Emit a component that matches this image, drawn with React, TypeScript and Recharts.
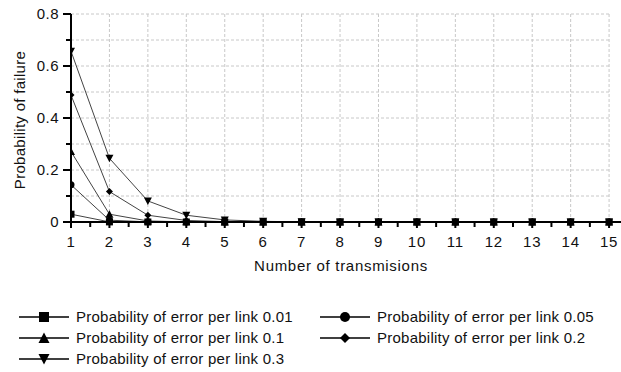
import React from "react";
import { LineChart, Line, XAxis, YAxis, ReferenceLine, Legend } from "recharts";

const transmissions = [1, 2, 3, 4, 5, 6, 7, 8, 9, 10, 11, 12, 13, 14, 15];
const p001 = [0.03, 0.0004, 0, 0, 0, 0, 0, 0, 0, 0, 0, 0, 0, 0, 0];
const p005 = [0.143, 0.007, 0.0005, 0, 0, 0, 0, 0, 0, 0, 0, 0, 0, 0, 0];
const p01 = [0.271, 0.03, 0.004, 0.0005, 0, 0, 0, 0, 0, 0, 0, 0, 0, 0, 0];
const p02 = [0.488, 0.117, 0.026, 0.006, 0.0013, 0.0003, 0.0001, 0, 0, 0, 0, 0, 0, 0, 0];
const p03 = [0.657, 0.245, 0.081, 0.026, 0.008, 0.0025, 0.0008, 0.0002, 0.0001, 0, 0, 0, 0, 0, 0];

const seriesNames = [
  "Probability of error per link 0.01",
  "Probability of error per link 0.05",
  "Probability of error per link 0.1",
  "Probability of error per link 0.2",
  "Probability of error per link 0.3",
];
const seriesKeys = ["p001", "p005", "p01", "p02", "p03"];
const seriesShapes = ["square", "circle", "triangle", "diamond", "triangleDown"];

const yTicks = [0, 0.1, 0.2, 0.3, 0.4, 0.5, 0.6, 0.7, 0.8];
const yGridValues = [0.1, 0.2, 0.3, 0.4, 0.5, 0.6, 0.7, 0.8];
const xTicks = [1, 1.5, 2, 2.5, 3, 3.5, 4, 4.5, 5, 5.5, 6, 6.5, 7, 7.5, 8, 8.5, 9, 9.5, 10, 10.5, 11, 11.5, 12, 12.5, 13, 13.5, 14, 14.5, 15];
const xGridValues = [2, 3, 4, 5, 6, 7, 8, 9, 10, 11, 12, 13, 14, 15];

const data = transmissions.map((t, i) => ({
  t,
  p001: p001[i],
  p005: p005[i],
  p01: p01[i],
  p02: p02[i],
  p03: p03[i],
}));

const FONT = "'Liberation Sans', Arial, sans-serif";
const GRID = "#c8c8c8";
const LINE = "#444";

function Marker({ shape, cx, cy, s }: { shape: string; cx: number; cy: number; s: number }) {
  const h = s / 2;
  if (shape === "square") return <rect x={cx - h} y={cy - h} width={s} height={s} fill="#000" />;
  if (shape === "circle") return <circle cx={cx} cy={cy} r={h} fill="#000" />;
  if (shape === "triangle")
    return <polygon points={`${cx},${cy - h - 0.5} ${cx + h + 0.5},${cy + h} ${cx - h - 0.5},${cy + h}`} fill="#000" />;
  if (shape === "triangleDown")
    return <polygon points={`${cx - h - 0.5},${cy - h} ${cx + h + 0.5},${cy - h} ${cx},${cy + h + 0.5}`} fill="#000" />;
  return <polygon points={`${cx},${cy - h} ${cx + h},${cy} ${cx},${cy + h} ${cx - h},${cy}`} fill="#000" />;
}

const makeDot = (shape: string) => (props: any) => {
  const { cx, cy, index } = props;
  if (cx == null || cy == null) return <g key={index} />;
  return <Marker key={`${shape}-${index}`} shape={shape} cx={cx} cy={cy} s={7} />;
};

const XTick = (props: any) => {
  const { x, y, payload } = props;
  const v = payload.value;
  const major = Number.isInteger(v);
  return (
    <g>
      <line x1={x} x2={x} y1={y} y2={y + (major ? 6 : 5)} stroke="#000" strokeWidth={2} />
      {major && (
        <text x={x} y={y + 25} textAnchor="middle" fontFamily={FONT} fontSize={15} letterSpacing={0.8} fill="#111">
          {v}
        </text>
      )}
    </g>
  );
};

const YTick = (props: any) => {
  const { x, y, payload } = props;
  const v = payload.value;
  const idx = Math.round(v * 10);
  const major = idx % 2 === 0;
  return (
    <g>
      <line x1={x - (major ? 8 : 5)} x2={x} y1={y} y2={y} stroke="#000" strokeWidth={2} />
      {major && (
        <text x={x - 12} y={y + 5} textAnchor="end" fontFamily={FONT} fontSize={15} letterSpacing={0.5} fill="#111">
          {idx === 0 ? "0" : v.toFixed(1)}
        </text>
      )}
    </g>
  );
};

const LegendBox = () => {
  const rows: number[][] = [[0, 1], [2, 3], [4]];
  return (
    <div style={{ height: 96, width: 621, boxSizing: "border-box", paddingTop: 34, fontFamily: FONT, fontSize: 15, letterSpacing: 0.25, color: "#111" }}>
      {rows.map((r, ri) => (
        <div key={ri} style={{ height: 21, position: "relative" }}>
          {r.map((si, ci) => (
            <div key={si} style={{ position: "absolute", left: ci === 0 ? 19 : 320, top: 0, height: 21, display: "flex", alignItems: "center", whiteSpace: "nowrap" }}>
              <svg width={50} height={14} style={{ marginRight: 7 }}>
                <line x1={0} x2={50} y1={7} y2={7} stroke="#000" strokeWidth={1.5} />
                <Marker shape={seriesShapes[si]} cx={25} cy={7} s={10} />
              </svg>
              <span>{seriesNames[si]}</span>
            </div>
          ))}
        </div>
      ))}
    </div>
  );
};

export default function App() {
  return (
    <div style={{ position: "absolute", left: 0, top: 0, background: "#fff" }}>
      <LineChart width={621} height={372} data={data} margin={{ top: 14, right: 0, left: 0, bottom: 4 }}>
        {yGridValues.map((v) => (
          <ReferenceLine
            key={`h${v}`}
            segment={[{ x: 1, y: v }, { x: 15, y: v }]}
            stroke={GRID}
            strokeDasharray="3 2"
            ifOverflow="visible"
          />
        ))}
        {xGridValues.map((v) => (
          <ReferenceLine key={`v${v}`} x={v} stroke={GRID} strokeDasharray="3 2" />
        ))}
        <XAxis
          dataKey="t"
          type="number"
          domain={[1, 15.31]}
          ticks={xTicks}
          allowDataOverflow
          interval={0}
          height={50}
          tickSize={0}
          tickMargin={0}
          tick={<XTick />}
          axisLine={{ stroke: "#000", strokeWidth: 2 }}
          label={(p: any) => {
            const vb = p.viewBox || {};
            return (
              <text x={341} y={(vb.y ?? 222) + 49} textAnchor="middle" fontFamily={FONT} fontSize={15} letterSpacing={0.7} fill="#111">
                Number of transmisions
              </text>
            );
          }}
        />
        <YAxis
          type="number"
          domain={[0, 0.8]}
          ticks={yTicks}
          interval={0}
          width={71}
          tickSize={0}
          tickMargin={0}
          tick={<YTick />}
          axisLine={{ stroke: "#000", strokeWidth: 2 }}
          label={() => (
            <text
              x={25}
              y={120}
              transform="rotate(-90 25 120)"
              textAnchor="middle"
              fontFamily={FONT}
              fontSize={15}
              letterSpacing={0.3}
              fill="#111"
            >
              Probability of failure
            </text>
          )}
        />
        <Legend verticalAlign="bottom" align="left" content={() => <LegendBox />} />
        {seriesKeys.map((k, i) => (
          <Line
            key={k}
            type="linear"
            dataKey={k}
            name={seriesNames[i]}
            stroke={LINE}
            strokeWidth={1}
            dot={makeDot(seriesShapes[i])}
            activeDot={false}
            isAnimationActive={false}
          />
        ))}
      </LineChart>
    </div>
  );
}
